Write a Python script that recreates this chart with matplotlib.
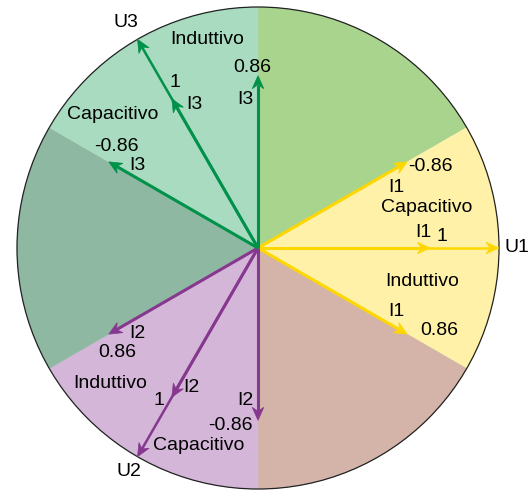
import numpy as np
import matplotlib.pyplot as plt
from matplotlib.patches import Wedge, Circle, Polygon

plt.rcParams['font.family'] = ['Liberation Sans', 'DejaVu Sans']

# Data
phases = ['U1', 'U2', 'U3']
phase_angles = [0, -120, 120]          # degrees
phase_ids = ['1', '2', '3']
pf_values = ['1', '0.86', '-0.86']
pf_shift = [0, -30, 30]                # lag (inductive) / lead (capacitive)
u_mag = 1.0
i_mag = 0.715

sector_start = [30, -30, -90, 210, 150, 90]
sector_colors = ['#a8d48e', '#fff2a8', '#d4b4a8', '#d4b6d8', '#8fb8a2', '#a8dbbf']

line_colors = {'1': '#ffd700', '2': '#86388f', '3': '#00914a'}

# region labels: (text, angle deg, radius)
region_text = ['Capacitivo', 'Induttivo', 'Induttivo', 'Capacitivo', 'Induttivo', 'Capacitivo']
region_ang = [13.6, -11.7, 103.8, 137.5, 222.4, 253.4]
region_rad = [0.722, 0.695, 0.889, 0.817, 0.831, 0.857]

# label offsets in pixels from arrow tips: (name offset, value offset)
i_offsets = {
    ('1', '1'): ((-7, 15), (12, 11)),
    ('1', '-0.86'): ((-11, -26), (23, -5)),
    ('1', '0.86'): ((-11, 23), (32, 4)),
    ('3', '1'): ((23, -6), (3, 16)),
    ('3', '0.86'): ((-13, -24), (-6, 8)),
    ('3', '-0.86'): ((29, -4), (8, 15)),
    ('2', '1'): ((20, 10), (-13, -3)),
    ('2', '0.86'): ((29, 1), (8, -18)),
    ('2', '-0.86'): ((-13, 20), (-28, -5)),
}
u_offsets = {'U1': (18, 0), 'U2': (-9, -15), 'U3': (-12, 17)}

R_PX = 241.0
W, H = 532, 492
CX, CY = 258, 248

fig = plt.figure(figsize=(W / 100, H / 100), dpi=100)
ax = fig.add_axes([0, 0, 1, 1])
ax.set_xlim(-CX / R_PX, (W - CX) / R_PX)
ax.set_ylim((CY - H) / R_PX, CY / R_PX)
ax.set_aspect('equal')
ax.axis('off')

for s, c in zip(sector_start, sector_colors):
    ax.add_patch(Wedge((0, 0), 1.0, s, s + 60, facecolor=c, edgecolor=c, lw=0.3, zorder=1))
ax.add_patch(Circle((0, 0), 1.0, fill=False, edgecolor='#222222', lw=0.9, zorder=2))


def arrow(ang, length, color, lw):
    a = np.deg2rad(ang)
    u = np.array([np.cos(a), np.sin(a)])
    p = np.array([-u[1], u[0]])
    tip = length * u
    hl, hw, notch = 13 / R_PX, 5.8 / R_PX, 4 / R_PX
    back = tip - hl * u
    mid = tip - (hl - notch) * u
    ax.plot([0, mid[0]], [0, mid[1]], color=color, lw=lw, solid_capstyle='butt', zorder=3)
    ax.add_patch(Polygon([tip, back + hw * p, mid, back - hw * p], closed=True,
                         facecolor=color, edgecolor=color, lw=0.5, zorder=4))
    return tip


fs = 14
# voltages
for name, ang, pid in zip(phases, phase_angles, phase_ids):
    tip = arrow(ang, u_mag, line_colors[pid], 1.8)
    ax.annotate(name, tip, xytext=u_offsets[name], textcoords='offset pixels',
                ha='center', va='center', fontsize=fs, zorder=6)

# currents
for pid, ang in zip(phase_ids, phase_angles):
    for pf, sh in zip(pf_values, pf_shift):
        tip = arrow(ang + sh, i_mag, line_colors[pid], 2.2)
        off_n, off_v = i_offsets[(pid, pf)]
        ax.annotate('I' + pid, tip, xytext=off_n, textcoords='offset pixels',
                    ha='center', va='center', fontsize=fs, zorder=6)
        ax.annotate(pf, tip, xytext=off_v, textcoords='offset pixels',
                    ha='center', va='center', fontsize=fs, zorder=6)

for t, a, r in zip(region_text, region_ang, region_rad):
    ax.text(r * np.cos(np.deg2rad(a)), r * np.sin(np.deg2rad(a)), t,
            ha='center', va='center', fontsize=fs, zorder=6)

fig.savefig('out.png', dpi=100)
